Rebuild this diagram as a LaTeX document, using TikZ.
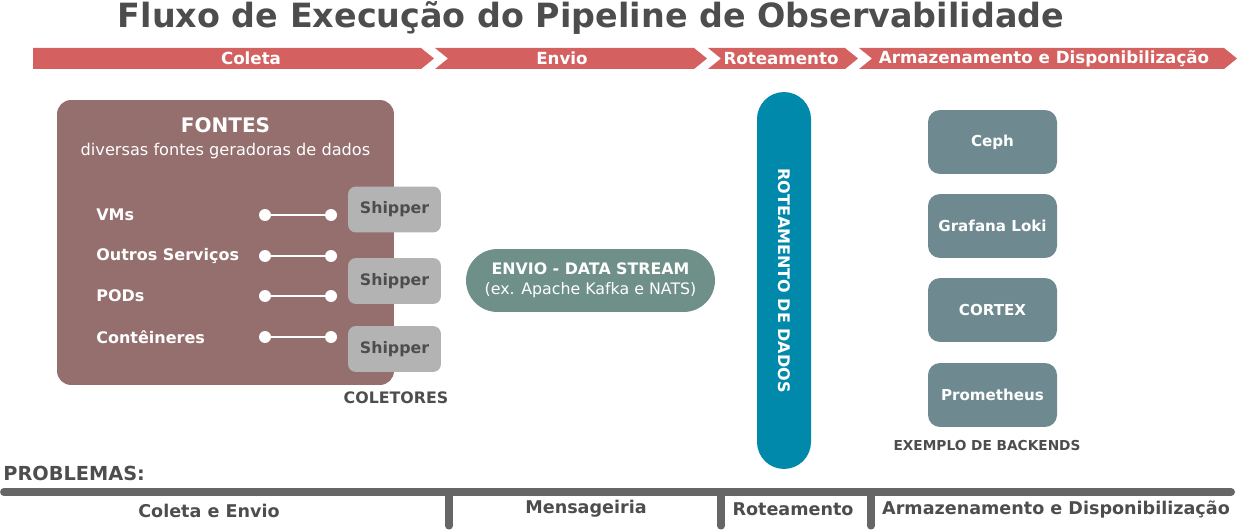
\documentclass[tikz,border=0pt]{standalone}
\usepackage{fontspec}
\setmainfont{DejaVu Sans}
\usetikzlibrary{positioning}
\definecolor{faixa}{RGB}{212,96,96}
\definecolor{fontes}{RGB}{148,111,109}
\definecolor{shipper}{RGB}{179,179,179}
\definecolor{envio}{RGB}{111,144,136}
\definecolor{rotas}{RGB}{0,137,171}
\definecolor{backend}{RGB}{110,138,144}
\definecolor{texto}{RGB}{77,77,77}
\definecolor{linha}{RGB}{102,102,102}

\tikzset{
  faixatxt/.style={text=white, font=\bfseries\fontsize{9.5}{11}\selectfont, inner sep=0pt},
  bloco/.style={rounded corners=0.16cm, inner sep=0pt, align=center},
  itemtxt/.style={anchor=west, text=white, inner sep=0pt, font=\bfseries\fontsize{9.1}{11}\selectfont},
  ponto/.style={circle, fill=white, inner sep=0pt, minimum size=0.24cm},
  rotulo/.style={text=texto, inner sep=0pt, font=\bfseries\fontsize{9}{11}\selectfont},
  problema/.style={text=texto, inner sep=0pt, font=\bfseries\fontsize{10}{12}\selectfont},
}

\begin{document}
\begin{tikzpicture}[x=0.02cm, y=-0.02cm]
  \useasboundingbox (0,0) rectangle (1250,530);

  % titulo
  \node[text=texto, font=\bfseries\fontsize{19}{22}\selectfont, inner sep=0pt] (titulo) at (591,18)
    {Fluxo de Execução do Pipeline de Observabilidade};

  % fases
  \foreach \xl/\nd/\xr/\xt/\lbl [count=\i] in {33/0/421/251/Coleta, 435/13/694/562/Envio,
      708/13/845/781/Roteamento, 859/13/1224/1044/Armazenamento e Disponibilização} {
    \fill[faixa] (\xl,48) -- (\xr,48) -- (\xr+13,58.5) -- (\xr,69) -- (\xl,69) -- (\xl+\nd,58.5) -- cycle;
    \node[faixatxt] (fase\i) at (\xt,58.5) {\lbl};
  }

  % fontes
  \node[bloco, fill=fontes, rounded corners=0.28cm, minimum width=6.74cm, minimum height=5.7cm] (fontes) at (225.5,242.5) {};
  \node[text=white, font=\bfseries\fontsize{11.4}{13}\selectfont, inner sep=0pt] (fontestit) at (225.5,125) {FONTES};
  \node[text=white, font=\fontsize{9.2}{11}\selectfont, inner sep=0pt] (fontessub) at (225.5,151) {diversas fontes geradoras de dados};

  \foreach \y/\item [count=\i] in {215/VMs, 256/Outros Serviços, 296/PODs, 337/Contêineres} {
    \node[itemtxt] (item\i) at (96,\y) {\item};
    \node[ponto] (pa\i) at (265,\y) {};
    \node[ponto] (pb\i) at (331,\y) {};
    \draw[white, line width=1.2pt] (pa\i) -- (pb\i);
  }

  % coletores
  \foreach \y [count=\i] in {209.5, 281, 349} {
    \node[bloco, fill=shipper, minimum width=1.86cm, minimum height=0.92cm, text=texto,
      font=\bfseries\fontsize{9}{11}\selectfont] (shipper\i) at (394.5,\y) {Shipper};
  }
  \node[rotulo] (coletores) at (396,398) {COLETORES};

  % envio
  \node[bloco, fill=envio, rounded corners=0.63cm, minimum width=4.98cm, minimum height=1.26cm] (envio) at (590.5,280.5) {};
  \node[text=white, font=\bfseries\fontsize{9}{11}\selectfont, inner sep=0pt] (enviotit) at (590.5,269) {ENVIO - DATA STREAM};
  \node[text=white, font=\fontsize{9}{11}\selectfont, inner sep=0pt] (enviosub) at (590.5,290) {(ex. Apache Kafka e NATS)};

  % roteamento
  \node[bloco, fill=rotas, rounded corners=0.54cm, minimum width=1.08cm, minimum height=7.54cm] (rotas) at (784,280.5) {};
  \node[rotate=-90, text=white, font=\bfseries\fontsize{9.1}{11}\selectfont, inner sep=0pt] (rotastxt) at (784,280.5) {ROTEAMENTO DE DADOS};

  % backends
  \foreach \y/\lbl [count=\i] in {142/Ceph, 226/Grafana Loki, 310/CORTEX, 395/Prometheus} {
    \node[bloco, fill=backend, rounded corners=0.24cm, minimum width=2.58cm, minimum height=1.28cm, text=white,
      font=\bfseries\fontsize{8.6}{10}\selectfont] (backend\i) at (992.5,\y) {\lbl};
  }
  \node[text=texto, font=\bfseries\fontsize{7.8}{9}\selectfont, inner sep=0pt] (exemplo) at (987,446) {EXEMPLO DE BACKENDS};

  % problemas
  \node[anchor=west, text=texto, font=\bfseries\fontsize{11}{13}\selectfont, inner sep=0pt] (problemas) at (3,473) {PROBLEMAS:};
  \coordinate (eixoa) at (4,492);
  \coordinate (eixob) at (1231,492);
  \draw[linha, line width=4.5pt, line cap=round] (eixoa) -- (eixob);
  \foreach \x in {449, 721, 871} {
    \draw[linha, line width=4pt, line cap=round] (\x,492) -- (\x,526);
  }
  \foreach \x/\y/\lbl [count=\i] in {209/511/Coleta e Envio, 586/509/Mensageiria, 793/509/Roteamento,
      1056/509/Armazenamento e Disponibilização} {
    \node[problema] (prob\i) at (\x,\y) {\lbl};
  }
\end{tikzpicture}
\end{document}
